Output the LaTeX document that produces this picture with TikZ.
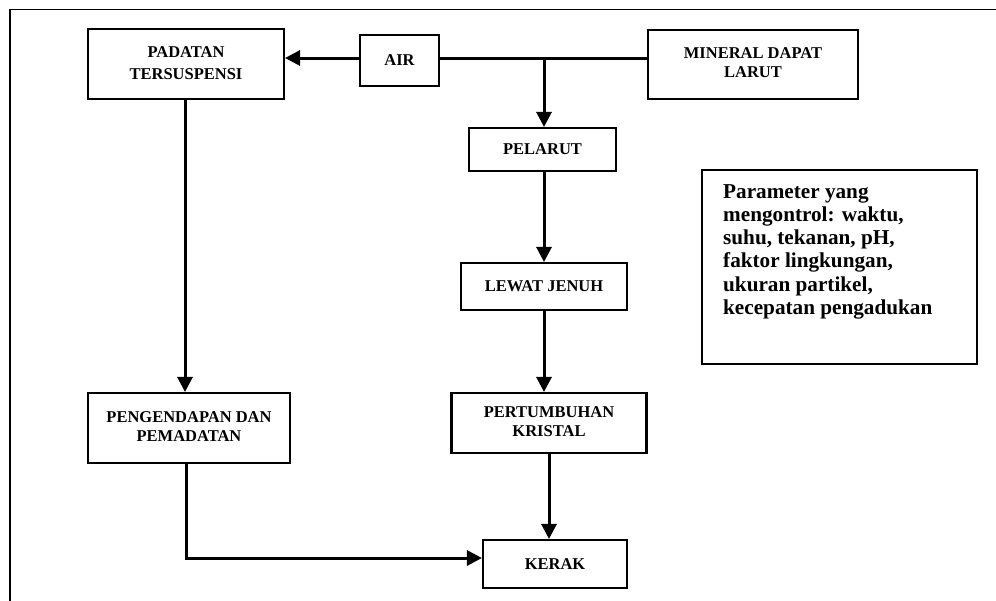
\documentclass[tikz,border=0pt]{standalone}
\usepackage{fontspec}
\setmainfont{Liberation Serif}
\usetikzlibrary{arrows.meta}
\tikzset{
  box/.style={draw, line width=2.1pt, rectangle, inner sep=0pt, align=center,
    font=\fontsize{16.5}{19}\selectfont\bfseries},
  arr/.style={line width=3pt, -{Triangle[length=15pt,width=15pt]}},
  plain/.style={line width=3pt},
}
\newcommand{\twolines}[3]{\raisebox{#1}{\begin{tabular}{@{}c@{}}#2\\#3\end{tabular}}}
\begin{document}
\begin{tikzpicture}[x=1pt,y=-1pt]
  \useasboundingbox (0,0) rectangle (996,600);
  % outer frame
  \draw[line width=1.9pt] (10,9.5) rectangle (1010,612);

  % process boxes
  \node[box, minimum width=196pt, minimum height=70pt] (pad) at (186,64)
    {\fontsize{16.5}{22}\selectfont\twolines{2pt}{PADATAN}{TERSUSPENSI}};
  \node[box, minimum width=79pt, minimum height=51pt] (air) at (399.5,60.5) {\raisebox{-3pt}{AIR}};
  \node[box, minimum width=210pt, minimum height=69pt] (min) at (753,64.5)
    {\twolines{4pt}{MINERAL DAPAT}{LARUT}};
  \node[box, minimum width=147pt, minimum height=43pt] (pel) at (542.5,149.5) {PELARUT};
  \node[box, minimum width=166pt, minimum height=47pt] (lew) at (544,286.5) {LEWAT JENUH};
  \node[box, minimum width=195pt, minimum height=60pt] (per) at (549,423) {\twolines{0pt}{PERTUMBUHAN}{KRISTAL}};
  \node[box, minimum width=144pt, minimum height=48pt] (ker) at (555,564) {KERAK};
  \node[box, minimum width=202pt, minimum height=70pt] (pen) at (189,428)
    {\twolines{5pt}{PENGENDAPAN DAN}{PEMADATAN}};

  % parameter box
  \node[box, minimum width=275pt, minimum height=194pt] (param) at (839.5,267) {};
  \node[anchor=north west, inner sep=0pt, align=left,
    font=\fontsize{21.2}{23.3}\selectfont\bfseries] (paramtext) at (723,184)
    {Parameter yang\\mengontrol: waktu,\\suhu, tekanan, pH,\\faktor lingkungan,\\ukuran partikel,\\kecepatan pengadukan};

  % junction on the water line
  \coordinate (j) at (544,58);

  % connectors
  \draw[arr] (air.west |- j) -- (pad.east |- j);
  \draw[plain] (air.east |- j) -- (min.west |- j);
  \draw[arr] (j) -- (j |- pel.north);
  \draw[arr] (pel.south -| j) -- (lew.north -| j);
  \draw[arr] (lew.south -| j) -- (per.north -| j);
  \draw[arr] (per.south) -- (per.south |- ker.north);
  \draw[arr] ([xshift=-1pt]pad.south) -- ([xshift=-1pt]pen.north -| pad.south);
  \draw[arr] ([xshift=-3pt]pen.south) |- ([yshift=6pt]ker.west);
\end{tikzpicture}
\end{document}
